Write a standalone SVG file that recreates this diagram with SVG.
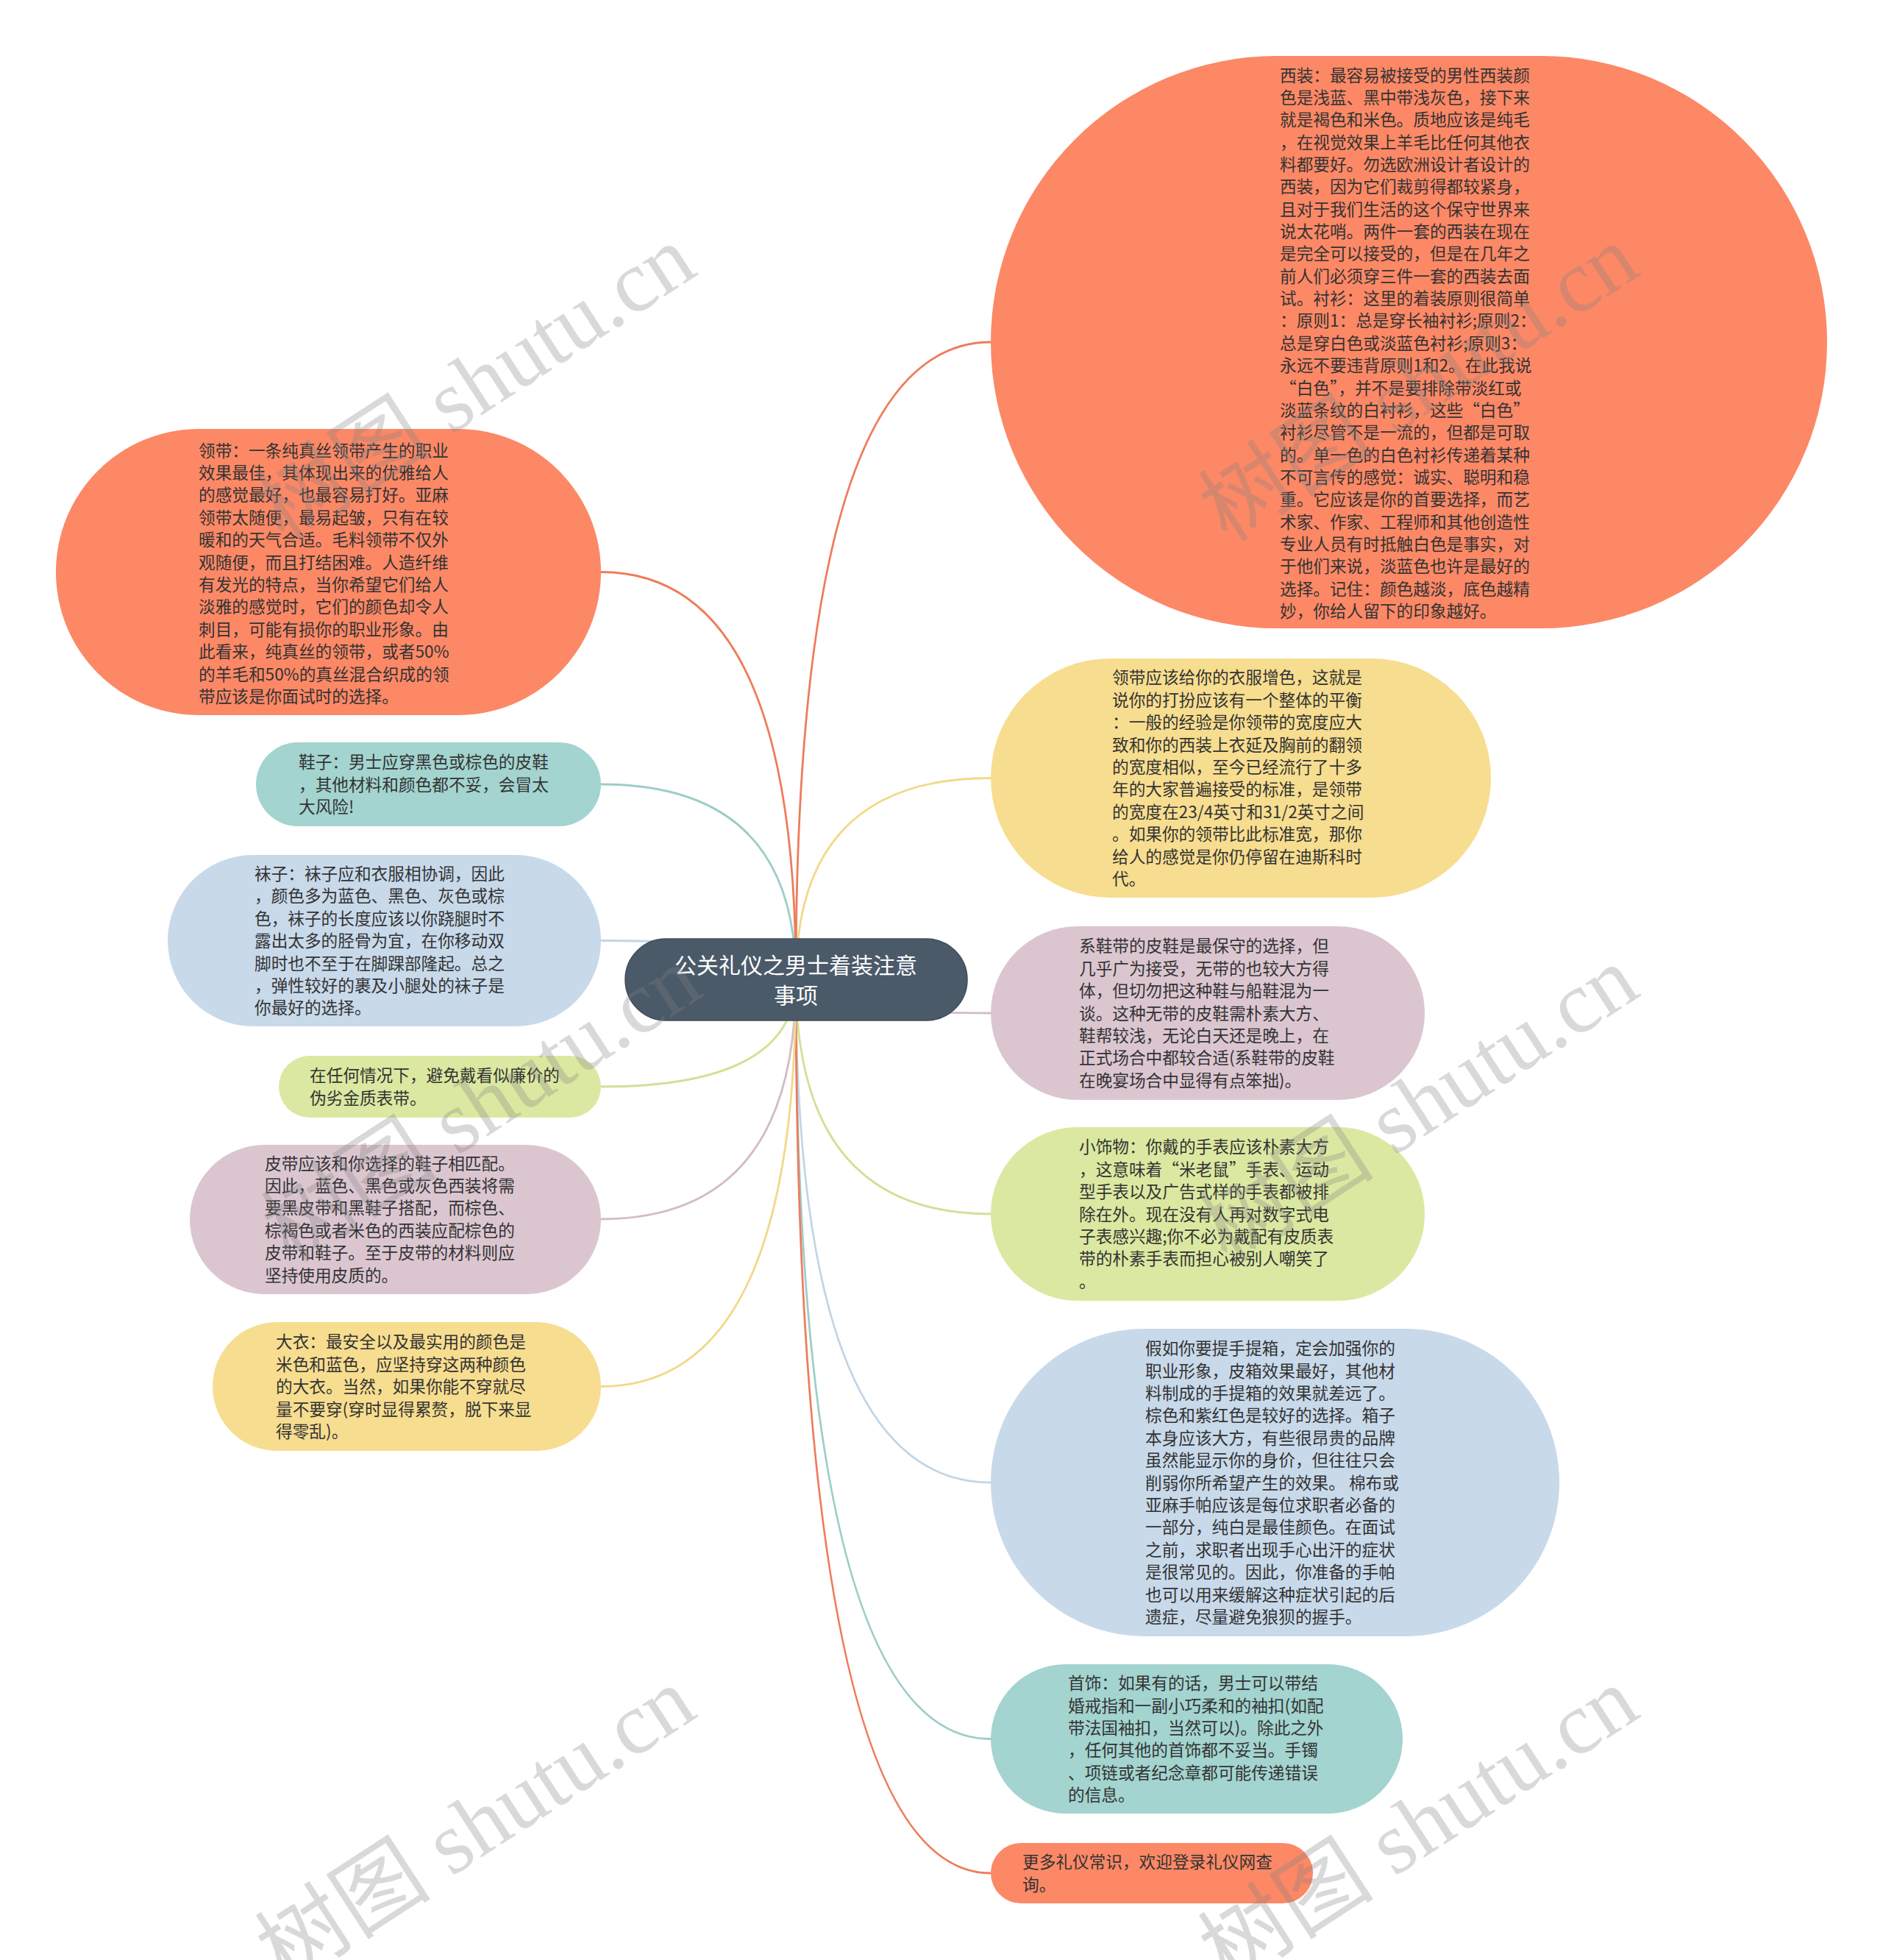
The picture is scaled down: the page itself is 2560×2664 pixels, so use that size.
<svg xmlns="http://www.w3.org/2000/svg" width="2560" height="2664" viewBox="0 0 2560 2664">
<style>
.t{font-family:"Noto Sans CJK SC","Noto Sans",sans-serif;font-size:22.67px;fill:#333333;}
.title{font-family:"Noto Sans CJK SC","Noto Sans",sans-serif;font-size:30px;fill:#ffffff;text-anchor:middle;}
.c{fill:none;stroke-width:2.8;}
.wm{font-family:"Liberation Serif","Noto Sans CJK SC",serif;font-size:120px;fill:#808080;fill-opacity:0.3;text-anchor:middle;}
.orange{fill:#fc8866;}
.yellow{fill:#f7dd8f;}
.teal{fill:#a3d4cf;}
.blue{fill:#c8d9ea;}
.mauve{fill:#dbc6d0;}
.green{fill:#dbe8a1;}
</style>
<rect x="0" y="0" width="2560" height="2664" fill="#ffffff"/>
<g id="connectors">
<path class="c" stroke="#ee7c5c" d="M1082 1331 Q1082 465 1347 465"/>
<path class="c" stroke="#f2d98a" d="M1082 1331 Q1082 1057.5 1347 1057.5"/>
<path class="c" stroke="#d3bcc7" d="M1082 1331 Q1082 1377 1347 1377"/>
<path class="c" stroke="#d2e094" d="M1082 1331 Q1082 1650 1347 1650"/>
<path class="c" stroke="#c2d5e6" d="M1082 1331 Q1082 2015 1347 2015"/>
<path class="c" stroke="#9dcdc8" d="M1082 1331 Q1082 2363.5 1347 2363.5"/>
<path class="c" stroke="#ee7c5c" d="M1082 1331 Q1082 2546 1347 2546"/>
<path class="c" stroke="#ee7c5c" d="M1082 1331 Q1082 777.5 817 777.5"/>
<path class="c" stroke="#9dcdc8" d="M1082 1331 Q1082 1066 817 1066"/>
<path class="c" stroke="#c2d5e6" d="M1082 1331 Q1082 1278.5 817 1278.5"/>
<path class="c" stroke="#d2e094" d="M1082 1331 Q1082 1477 817 1477"/>
<path class="c" stroke="#d3bcc7" d="M1082 1331 Q1082 1657 817 1657"/>
<path class="c" stroke="#f2d98a" d="M1082 1331 Q1082 1884.5 817 1884.5"/>
</g>
<g id="root">
<rect x="850" y="1276" width="465" height="111" rx="55.5" fill="#4b5a69" stroke="#3f4d5a" stroke-width="1.5"/>
<text class="title" x="1082" y="1323"><tspan x="1082">公关礼仪之男士着装注意</tspan><tspan x="1082" dy="41">事项</tspan></text>
</g>
<g id="node-xizhuang">
<rect class="orange" x="1347" y="76" width="1137" height="778" rx="389"/>
<text class="t" x="1740" y="110.6"><tspan x="1740">西装：最容易被接受的男性西装颜</tspan><tspan x="1740" dy="30.35">色是浅蓝、黑中带浅灰色，接下来</tspan><tspan x="1740" dy="30.35">就是褐色和米色。质地应该是纯毛</tspan><tspan x="1740" dy="30.35">，在视觉效果上羊毛比任何其他衣</tspan><tspan x="1740" dy="30.35">料都要好。勿选欧洲设计者设计的</tspan><tspan x="1740" dy="30.35">西装，因为它们裁剪得都较紧身，</tspan><tspan x="1740" dy="30.35">且对于我们生活的这个保守世界来</tspan><tspan x="1740" dy="30.35">说太花哨。两件一套的西装在现在</tspan><tspan x="1740" dy="30.35">是完全可以接受的，但是在几年之</tspan><tspan x="1740" dy="30.35">前人们必须穿三件一套的西装去面</tspan><tspan x="1740" dy="30.35">试。衬衫：这里的着装原则很简单</tspan><tspan x="1740" dy="30.35">：原则1：总是穿长袖衬衫;原则2：</tspan><tspan x="1740" dy="30.35">总是穿白色或淡蓝色衬衫;原则3：</tspan><tspan x="1740" dy="30.35">永远不要违背原则1和2。在此我说</tspan><tspan x="1740" dy="30.35">“白色”，并不是要排除带淡红或</tspan><tspan x="1740" dy="30.35">淡蓝条纹的白衬衫，这些“白色”</tspan><tspan x="1740" dy="30.35">衬衫尽管不是一流的，但都是可取</tspan><tspan x="1740" dy="30.35">的。单一色的白色衬衫传递着某种</tspan><tspan x="1740" dy="30.35">不可言传的感觉：诚实、聪明和稳</tspan><tspan x="1740" dy="30.35">重。它应该是你的首要选择，而艺</tspan><tspan x="1740" dy="30.35">术家、作家、工程师和其他创造性</tspan><tspan x="1740" dy="30.35">专业人员有时抵触白色是事实，对</tspan><tspan x="1740" dy="30.35">于他们来说，淡蓝色也许是最好的</tspan><tspan x="1740" dy="30.35">选择。记住：颜色越淡，底色越精</tspan><tspan x="1740" dy="30.35">妙，你给人留下的印象越好。</tspan></text>
</g>
<g id="node-lingdai-width">
<rect class="yellow" x="1347" y="895" width="680" height="325" rx="162.5"/>
<text class="t" x="1512" y="929.3"><tspan x="1512">领带应该给你的衣服增色，这就是</tspan><tspan x="1512" dy="30.4">说你的打扮应该有一个整体的平衡</tspan><tspan x="1512" dy="30.4">：一般的经验是你领带的宽度应大</tspan><tspan x="1512" dy="30.4">致和你的西装上衣延及胸前的翻领</tspan><tspan x="1512" dy="30.4">的宽度相似，至今已经流行了十多</tspan><tspan x="1512" dy="30.4">年的大家普遍接受的标准，是领带</tspan><tspan x="1512" dy="30.4">的宽度在23/4英寸和31/2英寸之间</tspan><tspan x="1512" dy="30.4">。如果你的领带比此标准宽，那你</tspan><tspan x="1512" dy="30.4">给人的感觉是你仍停留在迪斯科时</tspan><tspan x="1512" dy="30.4">代。</tspan></text>
</g>
<g id="node-xiedai">
<rect class="mauve" x="1347" y="1259" width="590" height="236" rx="118"/>
<text class="t" x="1467" y="1294.4"><tspan x="1467">系鞋带的皮鞋是最保守的选择，但</tspan><tspan x="1467" dy="30.4">几乎广为接受，无带的也较大方得</tspan><tspan x="1467" dy="30.4">体，但切勿把这种鞋与船鞋混为一</tspan><tspan x="1467" dy="30.4">谈。这种无带的皮鞋需朴素大方、</tspan><tspan x="1467" dy="30.4">鞋帮较浅，无论白天还是晚上，在</tspan><tspan x="1467" dy="30.4">正式场合中都较合适(系鞋带的皮鞋</tspan><tspan x="1467" dy="30.4">在晚宴场合中显得有点笨拙)。</tspan></text>
</g>
<g id="node-xiaoshiwu">
<rect class="green" x="1347" y="1532" width="590" height="236" rx="118"/>
<text class="t" x="1467" y="1567.4"><tspan x="1467">小饰物：你戴的手表应该朴素大方</tspan><tspan x="1467" dy="30.4">，这意味着“米老鼠”手表、运动</tspan><tspan x="1467" dy="30.4">型手表以及广告式样的手表都被排</tspan><tspan x="1467" dy="30.4">除在外。现在没有人再对数字式电</tspan><tspan x="1467" dy="30.4">子表感兴趣;你不必为戴配有皮质表</tspan><tspan x="1467" dy="30.4">带的朴素手表而担心被别人嘲笑了</tspan><tspan x="1467" dy="30.4">。</tspan></text>
</g>
<g id="node-shoutixiang">
<rect class="blue" x="1347" y="1806" width="773" height="418" rx="209"/>
<text class="t" x="1557" y="1841.2"><tspan x="1557">假如你要提手提箱，定会加强你的</tspan><tspan x="1557" dy="30.4">职业形象，皮箱效果最好，其他材</tspan><tspan x="1557" dy="30.4">料制成的手提箱的效果就差远了。</tspan><tspan x="1557" dy="30.4">棕色和紫红色是较好的选择。箱子</tspan><tspan x="1557" dy="30.4">本身应该大方，有些很昂贵的品牌</tspan><tspan x="1557" dy="30.4">虽然能显示你的身价，但往往只会</tspan><tspan x="1557" dy="30.4">削弱你所希望产生的效果。 棉布或</tspan><tspan x="1557" dy="30.4">亚麻手帕应该是每位求职者必备的</tspan><tspan x="1557" dy="30.4">一部分，纯白是最佳颜色。在面试</tspan><tspan x="1557" dy="30.4">之前，求职者出现手心出汗的症状</tspan><tspan x="1557" dy="30.4">是很常见的。因此，你准备的手帕</tspan><tspan x="1557" dy="30.4">也可以用来缓解这种症状引起的后</tspan><tspan x="1557" dy="30.4">遗症，尽量避免狼狈的握手。</tspan></text>
</g>
<g id="node-shoushi">
<rect class="teal" x="1347" y="2262" width="560" height="203" rx="101.5"/>
<text class="t" x="1452" y="2296.1"><tspan x="1452">首饰：如果有的话，男士可以带结</tspan><tspan x="1452" dy="30.4">婚戒指和一副小巧柔和的袖扣(如配</tspan><tspan x="1452" dy="30.4">带法国袖扣，当然可以)。除此之外</tspan><tspan x="1452" dy="30.4">，任何其他的首饰都不妥当。手镯</tspan><tspan x="1452" dy="30.4">、项链或者纪念章都可能传递错误</tspan><tspan x="1452" dy="30.4">的信息。</tspan></text>
</g>
<g id="node-gengduo">
<rect class="orange" x="1347" y="2505" width="438" height="82" rx="41"/>
<text class="t" x="1390" y="2539.4"><tspan x="1390">更多礼仪常识，欢迎登录礼仪网查</tspan><tspan x="1390" dy="30.4">询。</tspan></text>
</g>
<g id="node-lingdai">
<rect class="orange" x="76" y="583" width="741" height="389" rx="194.5"/>
<text class="t" x="270" y="620.6"><tspan x="270">领带：一条纯真丝领带产生的职业</tspan><tspan x="270" dy="30.4">效果最佳，其体现出来的优雅给人</tspan><tspan x="270" dy="30.4">的感觉最好，也最容易打好。亚麻</tspan><tspan x="270" dy="30.4">领带太随便，最易起皱，只有在较</tspan><tspan x="270" dy="30.4">暖和的天气合适。毛料领带不仅外</tspan><tspan x="270" dy="30.4">观随便，而且打结困难。人造纤维</tspan><tspan x="270" dy="30.4">有发光的特点，当你希望它们给人</tspan><tspan x="270" dy="30.4">淡雅的感觉时，它们的颜色却令人</tspan><tspan x="270" dy="30.4">刺目，可能有损你的职业形象。由</tspan><tspan x="270" dy="30.4">此看来，纯真丝的领带，或者50%</tspan><tspan x="270" dy="30.4">的羊毛和50%的真丝混合织成的领</tspan><tspan x="270" dy="30.4">带应该是你面试时的选择。</tspan></text>
</g>
<g id="node-xiezi">
<rect class="teal" x="348" y="1009" width="469" height="114" rx="57"/>
<text class="t" x="406" y="1044.2"><tspan x="406">鞋子：男士应穿黑色或棕色的皮鞋</tspan><tspan x="406" dy="30.4">，其他材料和颜色都不妥，会冒太</tspan><tspan x="406" dy="30.4">大风险!</tspan></text>
</g>
<g id="node-wazi">
<rect class="blue" x="228" y="1162" width="589" height="233" rx="116.5"/>
<text class="t" x="346" y="1195.9"><tspan x="346">袜子：袜子应和衣服相协调，因此</tspan><tspan x="346" dy="30.4">，颜色多为蓝色、黑色、灰色或棕</tspan><tspan x="346" dy="30.4">色，袜子的长度应该以你跷腿时不</tspan><tspan x="346" dy="30.4">露出太多的胫骨为宜，在你移动双</tspan><tspan x="346" dy="30.4">脚时也不至于在脚踝部隆起。总之</tspan><tspan x="346" dy="30.4">，弹性较好的裹及小腿处的袜子是</tspan><tspan x="346" dy="30.4">你最好的选择。</tspan></text>
</g>
<g id="node-biaodai">
<rect class="green" x="379" y="1435" width="438" height="84" rx="42"/>
<text class="t" x="421" y="1470.4"><tspan x="421">在任何情况下，避免戴看似廉价的</tspan><tspan x="421" dy="30.4">伪劣金质表带。</tspan></text>
</g>
<g id="node-pidai">
<rect class="mauve" x="258" y="1556" width="559" height="203" rx="101.5"/>
<text class="t" x="360" y="1589.6"><tspan x="360">皮带应该和你选择的鞋子相匹配。</tspan><tspan x="360" dy="30.4">因此，蓝色、黑色或灰色西装将需</tspan><tspan x="360" dy="30.4">要黑皮带和黑鞋子搭配，而棕色、</tspan><tspan x="360" dy="30.4">棕褐色或者米色的西装应配棕色的</tspan><tspan x="360" dy="30.4">皮带和鞋子。至于皮带的材料则应</tspan><tspan x="360" dy="30.4">坚持使用皮质的。</tspan></text>
</g>
<g id="node-dayi">
<rect class="yellow" x="289" y="1797" width="528" height="175" rx="87.5"/>
<text class="t" x="375" y="1832.3"><tspan x="375">大衣：最安全以及最实用的颜色是</tspan><tspan x="375" dy="30.4">米色和蓝色，应坚持穿这两种颜色</tspan><tspan x="375" dy="30.4">的大衣。当然，如果你能不穿就尽</tspan><tspan x="375" dy="30.4">量不要穿(穿时显得累赘，脱下来显</tspan><tspan x="375" dy="30.4">得零乱)。</tspan></text>
</g>
<g id="watermarks">
<text class="wm" x="646" y="562" transform="rotate(-33 646 520)">树图 shutu.cn</text>
<text class="wm" x="1928" y="562" transform="rotate(-33 1928 520)">树图 shutu.cn</text>
<text class="wm" x="654" y="1542" transform="rotate(-33 654 1500)">树图 shutu.cn</text>
<text class="wm" x="1928" y="1542" transform="rotate(-33 1928 1500)">树图 shutu.cn</text>
<text class="wm" x="646" y="2522" transform="rotate(-33 646 2480)">树图 shutu.cn</text>
<text class="wm" x="1928" y="2522" transform="rotate(-33 1928 2480)">树图 shutu.cn</text>
</g>
</svg>
